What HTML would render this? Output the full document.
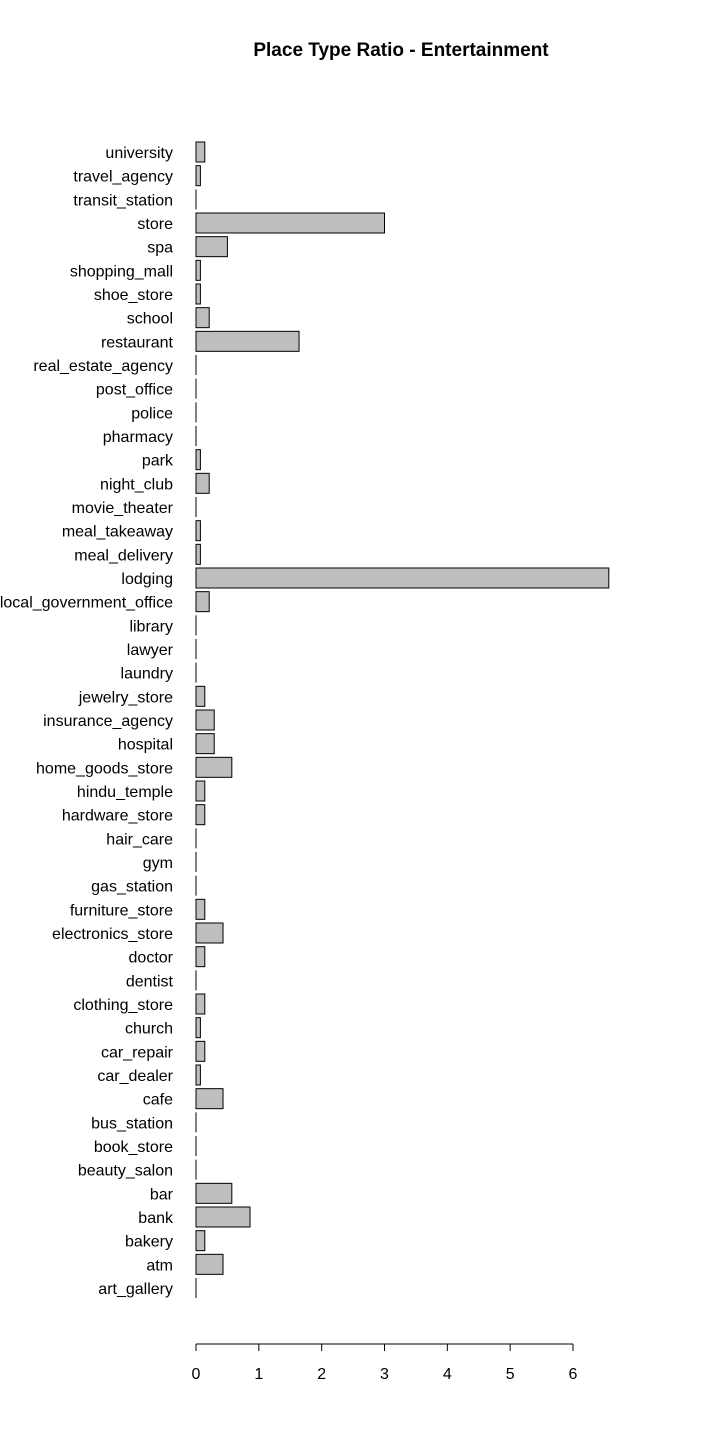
<!DOCTYPE html>
<html><head><meta charset="utf-8"><style>
html,body{margin:0;padding:0;background:#fff;}
svg{display:block;font-family:"Liberation Sans",sans-serif;}
</style></head><body>
<svg id="chart" width="705" height="1440">
<text x="401" y="56" text-anchor="middle" font-size="19" font-weight="bold">Place Type Ratio - Entertainment</text>
<g id="bars"></g><g id="axis"></g>
</svg>
<script>
const categories=["art_gallery","atm","bakery","bank","bar","beauty_salon","book_store","bus_station","cafe","car_dealer","car_repair","church","clothing_store","dentist","doctor","electronics_store","furniture_store","gas_station","gym","hair_care","hardware_store","hindu_temple","home_goods_store","hospital","insurance_agency","jewelry_store","laundry","lawyer","library","local_government_office","lodging","meal_delivery","meal_takeaway","movie_theater","night_club","park","pharmacy","police","post_office","real_estate_agency","restaurant","school","shoe_store","shopping_mall","spa","store","transit_station","travel_agency","university"];
const values=[0,0.43,0.14,0.86,0.57,0,0,0,0.43,0.07,0.14,0.07,0.14,0,0.14,0.43,0.14,0,0,0,0.14,0.14,0.57,0.29,0.29,0.14,0,0,0,0.21,6.57,0.07,0.07,0,0.21,0.07,0,0,0,0,1.64,0.21,0.07,0.07,0.5,3,0,0.07,0.14];
const ticks=[0,1,2,3,4,5,6];
const NS="http://www.w3.org/2000/svg";
const x=v=>196+v*(573-196)/6;
const yc=i=>1288-i*(1288-152)/(categories.length-1);
const bars=document.getElementById('bars'),axis=document.getElementById('axis');
function mk(tag,attrs,parent){const e=document.createElementNS(NS,tag);for(const k in attrs)e.setAttribute(k,attrs[k]);parent.appendChild(e);return e;}
categories.forEach((c,i)=>{
  const w=x(values[i])-x(0);
  let r;
  if(w>0.5){r=mk('rect',{x:x(0),y:yc(i)-10,width:w,height:20,fill:'#bebebe',stroke:'#000','stroke-width':1},bars);}
  else{r=mk('line',{x1:x(0),x2:x(0),y1:yc(i)-10,y2:yc(i)+10,stroke:'#000','stroke-width':1},bars);}
  
  
  const t=mk('text',{x:173,y:yc(i)+6,'text-anchor':'end','font-size':16},bars);
  t.textContent=c;
  
  
});
const al=mk('line',{x1:x(0),x2:x(6),y1:1344,y2:1344,stroke:'#000'},axis);


ticks.forEach(v=>{
  const l=mk('line',{x1:x(v),x2:x(v),y1:1344,y2:1351,stroke:'#000'},axis);
  
  
  const t=mk('text',{x:x(v),y:1379,'text-anchor':'middle','font-size':16},axis);
  t.textContent=v;
  
  
});
</script>
</body></html>
